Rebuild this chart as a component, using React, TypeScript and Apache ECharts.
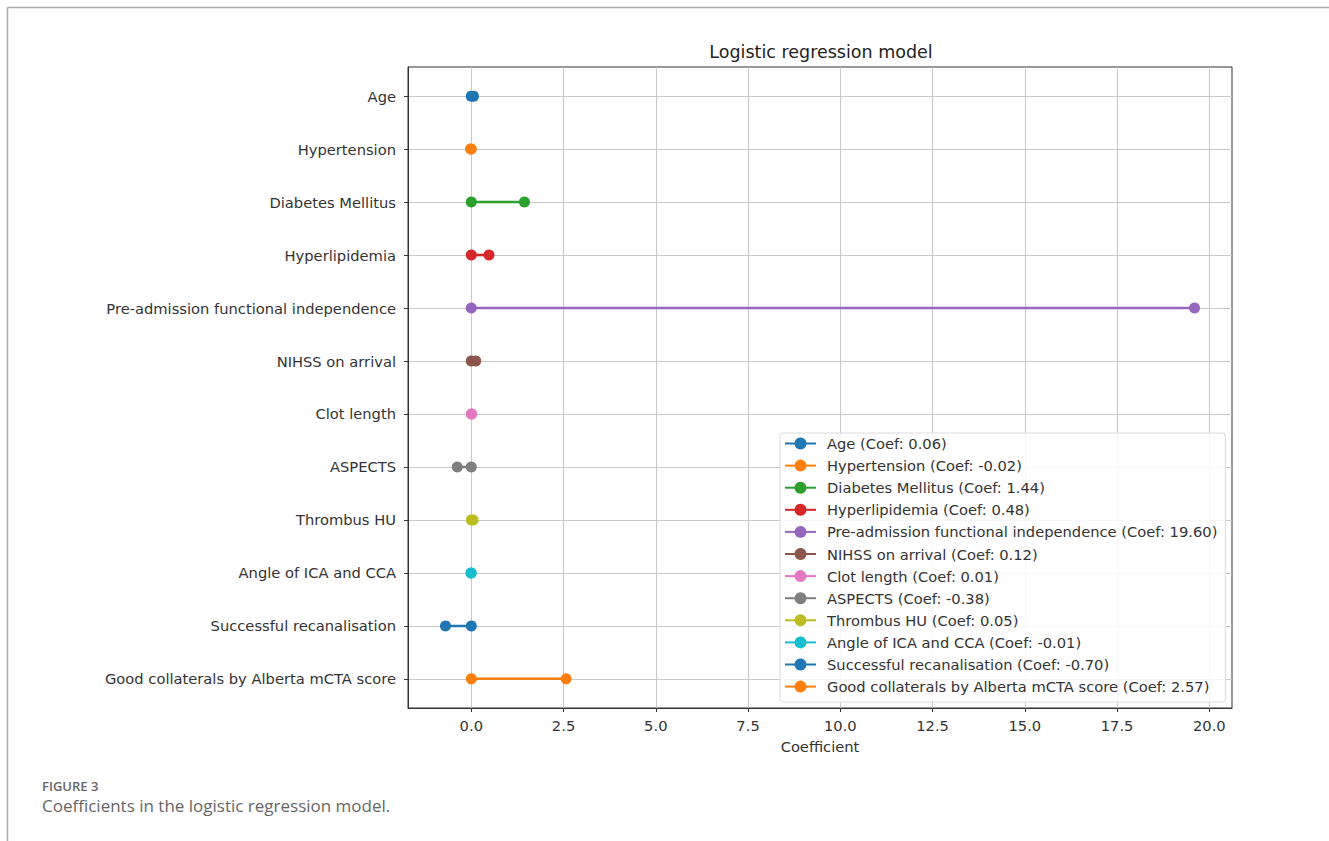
import React, { useEffect, useRef } from "react";
import * as echarts from "echarts";

const categories = [
  "Age",
  "Hypertension",
  "Diabetes Mellitus",
  "Hyperlipidemia",
  "Pre-admission functional independence",
  "NIHSS on arrival",
  "Clot length",
  "ASPECTS",
  "Thrombus HU",
  "Angle of ICA and CCA",
  "Successful recanalisation",
  "Good collaterals by Alberta mCTA score",
];
const coefs = [0.06, -0.02, 1.44, 0.48, 19.6, 0.12, 0.01, -0.38, 0.05, -0.01, -0.7, 2.57];
const xTicks = [0, 2.5, 5, 7.5, 10, 12.5, 15, 17.5, 20];
const colors = [
  "#1f77b4", "#ff7f0e", "#2ca02c", "#d62728", "#9467bd", "#8c564b",
  "#e377c2", "#7f7f7f", "#bcbd22", "#17becf", "#1f77b4", "#ff7f0e",
];
const yTicks = categories.map((_, i) => i);

const FONT = "DejaVu Sans";
const FS = 14.7;

export default function App() {
  const ref = useRef<HTMLDivElement>(null);
  useEffect(() => {
    if (!ref.current) return;
    const chart = echarts.init(ref.current, null, { renderer: "svg" });
    const series = categories.map((cat, i) => ({
      type: "line",
      name: `${cat} (Coef: ${coefs[i].toFixed(2)})`,
      data: [
        [0, i],
        [coefs[i], i],
      ],
      color: colors[i],
      symbol: "circle",
      symbolSize: 11,
      lineStyle: { width: 2.5, color: colors[i] },
      itemStyle: { color: colors[i] },
      emphasis: { disabled: true },
      z: 3 + i,
    }));
    chart.setOption({
      animation: false,
      title: {
        text: "Logistic regression model",
        left: 816,
        textAlign: "center",
        top: 38,
        textStyle: { fontFamily: FONT, fontSize: 17.5, fontWeight: "normal", color: "#222" },
      },
      grid: {
        left: 408,
        right: 97,
        top: 67,
        bottom: 133,
        show: true,
        borderColor: "#333",
        borderWidth: 1,
        containLabel: false,
      },
      xAxis: {
        type: "value",
        min: -1.715,
        max: 20.615,
        name: "Coefficient",
        nameLocation: "middle",
        nameGap: 31,
        nameTextStyle: { fontFamily: FONT, fontSize: FS, color: "#333" },
        axisLine: { show: true, onZero: false, lineStyle: { color: "#333", width: 1 } },
        axisTick: { show: true, length: 4, customValues: xTicks, lineStyle: { color: "#333" } },
        axisLabel: {
          customValues: xTicks,
          formatter: (v: number) => v.toFixed(1),
          fontFamily: FONT,
          fontSize: FS,
          color: "#333",
          margin: 10,
        },
        splitLine: { show: true, lineStyle: { color: "#c8c8c8", width: 1 } },
      },
      yAxis: {
        type: "value",
        min: -0.55,
        max: 11.55,
        inverse: true,
        axisLine: { show: true, onZero: false, lineStyle: { color: "#333", width: 1 } },
        axisTick: { show: true, length: 4, customValues: yTicks, lineStyle: { color: "#333" } },
        axisLabel: {
          customValues: yTicks,
          formatter: (v: number) => categories[Math.round(v)] ?? "",
          fontFamily: FONT,
          fontSize: FS,
          color: "#333",
          margin: 12,
        },
        splitLine: { show: true, lineStyle: { color: "#c8c8c8", width: 1 } },
      },
      legend: {
        orient: "vertical",
        left: 780,
        top: 433,
        itemWidth: 31,
        itemHeight: 15,
        itemGap: 7.1,
        padding: [3, 8, 8, 4],
        backgroundColor: "rgba(255,255,255,0.85)",
        borderColor: "#dcdcdc",
        borderWidth: 1,
        borderRadius: 3,
        textStyle: { fontFamily: FONT, fontSize: FS, lineHeight: 15, color: "#333", padding: [0, 0, 0, 6] },
        selectedMode: false,
      },
      graphic: [
        { type: "line", shape: { x1: 7.5, y1: 7.5, x2: 1329, y2: 7.5 }, style: { stroke: "#aaa", lineWidth: 1.5 } },
        { type: "line", shape: { x1: 7.5, y1: 7.5, x2: 7.5, y2: 841 }, style: { stroke: "#aaa", lineWidth: 1.5 } },
        {
          type: "text",
          left: 42,
          top: 779,
          style: { text: "FIGURE 3", fontFamily: "Open Sans", fontSize: 13, fill: "#666", fontWeight: 600 },
        },
        {
          type: "text",
          left: 42,
          top: 797,
          style: {
            text: "Coefficients in the logistic regression model.",
            fontFamily: "Open Sans",
            fontSize: 17,
            fill: "#666",
          },
        },
      ],
      series,
    });
    return () => chart.dispose();
  }, []);
  return <div ref={ref} style={{ width: 1329, height: 841, position: "absolute", left: 0, top: 0 }} />;
}
